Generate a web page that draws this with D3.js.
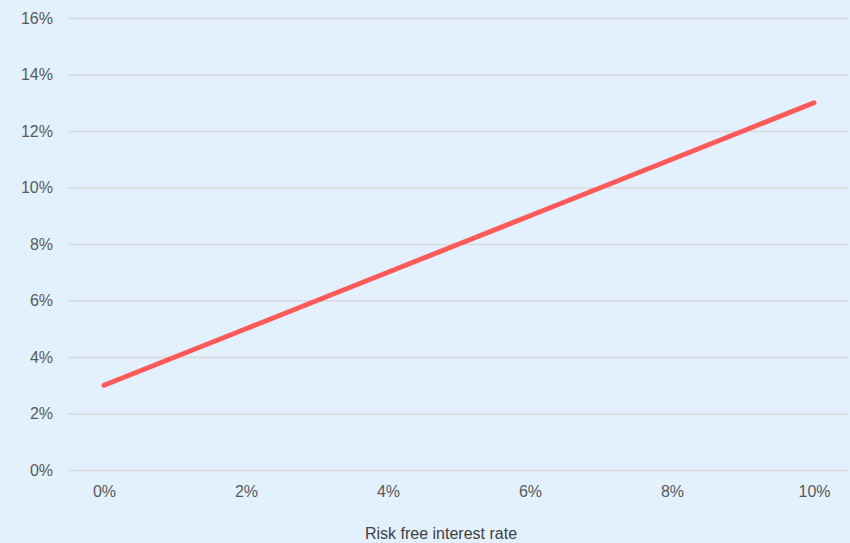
<!DOCTYPE html>
<html><head><meta charset="utf-8">
<script src="https://cdn.jsdelivr.net/npm/d3@7"></script>
<style>
html,body{margin:0;padding:0;background:#E3F1FE;}
svg{display:block;}
text{font-family:"Liberation Sans",Arial,sans-serif;}
</style></head>
<body>
<svg id="chart" width="850" height="543"></svg>
<script>
const rates = [0, 1, 2, 3, 4, 5, 6, 7, 8, 9, 10];
const returns = [3, 4, 5, 6, 7, 8, 9, 10, 11, 12, 13];
const yTicks = [0, 2, 4, 6, 8, 10, 12, 14, 16];
const xTicks = [0, 2, 4, 6, 8, 10];
const xTitle = "Risk free interest rate";

const W = 850, H = 543;
const svg = d3.select("#chart");
svg.append("rect").attr("width", W).attr("height", H).attr("fill", "#E3F1FE");

const x = d3.scaleLinear().domain([0, 10]).range([104, 814]);
const y = d3.scaleLinear().domain([0, 16]).range([470, 18]);
const gridX0 = 69, gridX1 = 848;

const yAxis = d3.axisLeft(y).tickValues(yTicks).tickFormat(d => d + "%").tickSize(0).tickPadding(0);
const gy = svg.append("g").attr("transform", `translate(${gridX0},0)`).call(yAxis);
gy.select(".domain").remove();
gy.selectAll(".tick line").attr("x2", gridX1 - gridX0).attr("stroke", "#D9D9D9").attr("stroke-width", 1.3);
gy.selectAll(".tick text").attr("x", -16).attr("fill", "#595959").attr("font-size", 16);

const xAxis = d3.axisBottom(x).tickValues(xTicks).tickFormat(d => d + "%").tickSize(0).tickPadding(0);
const gx = svg.append("g").attr("transform", `translate(0,470)`).call(xAxis);
gx.select(".domain").remove();
gx.selectAll(".tick text").attr("y", 16).attr("fill", "#595959").attr("font-size", 16);

svg.append("text").attr("x", 441).attr("y", 539).attr("text-anchor", "middle")
  .attr("fill", "#404040").attr("font-size", 16).text(xTitle);

const line = d3.line().x((d, i) => x(rates[i])).y(d => y(d));
svg.append("path").datum(returns).attr("d", line)
  .attr("fill", "none").attr("stroke", "#FF5A5A").attr("stroke-width", 5)
  .attr("stroke-linecap", "round").attr("stroke-linejoin", "round");
</script>
</body></html>
